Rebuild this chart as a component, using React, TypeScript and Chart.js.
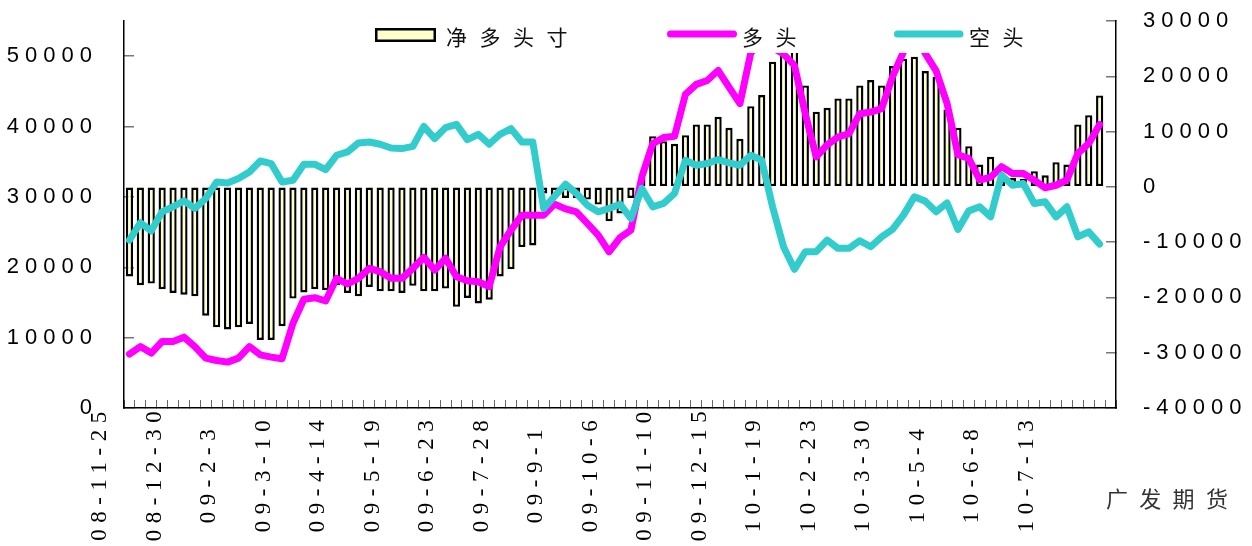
import React, { useEffect, useRef } from 'react';
import { Chart, registerables } from 'chart.js';

Chart.register(...registerables);

// Weekly categories (last slot is an empty category on the axis)
const categories: string[] = [
  '08-11-25', '08-12-2', '08-12-9', '08-12-16', '08-12-23',
  '08-12-30', '09-1-6', '09-1-13', '09-1-20', '09-1-27',
  '09-2-3', '09-2-10', '09-2-17', '09-2-24', '09-3-3',
  '09-3-10', '09-3-17', '09-3-24', '09-3-31', '09-4-7',
  '09-4-14', '09-4-21', '09-4-28', '09-5-5', '09-5-12',
  '09-5-19', '09-5-26', '09-6-2', '09-6-9', '09-6-16',
  '09-6-23', '09-6-30', '09-7-7', '09-7-14', '09-7-21',
  '09-7-28', '09-8-4', '09-8-11', '09-8-18', '09-8-25',
  '09-9-1', '09-9-8', '09-9-15', '09-9-22', '09-9-29',
  '09-10-6', '09-10-13', '09-10-20', '09-10-27', '09-11-3',
  '09-11-10', '09-11-17', '09-11-24', '09-12-1', '09-12-8',
  '09-12-15', '09-12-22', '09-12-29', '10-1-5', '10-1-12',
  '10-1-19', '10-1-26', '10-2-2', '10-2-9', '10-2-16',
  '10-2-23', '10-3-2', '10-3-9', '10-3-16', '10-3-23',
  '10-3-30', '10-4-6', '10-4-13', '10-4-20', '10-4-27',
  '10-5-4', '10-5-11', '10-5-18', '10-5-25', '10-6-1',
  '10-6-8', '10-6-15', '10-6-22', '10-6-29', '10-7-6',
  '10-7-13', '10-7-20', '10-7-27', '10-8-3', '10-8-10',
  '',
];

// 净多头寸 (right axis)
const netLong: (number | null)[] = [
  -16200, -17800, -17500, -18500, -19200, -19500, -19800, -23300, -25400, -25800,
  -25400, -24800, -27700, -27700, -25200, -20200, -19100, -18500, -18700, -17800,
  -19200, -19800, -18100, -18900, -18900, -19200, -17900, -18900, -18900, -18400,
  -21700, -20100, -21100, -20400, -16200, -14900, -10900, -10600, -1200, -1900,
  -2000, -2000, -2300, -3200, -6200, -4800, -2000, 1600, 9170, 8260,
  7790, 9350, 11290, 11290, 12680, 10690, 8700, 14600, 16600, 22640,
  27400, 29000, 18350, 13590, 14310, 16000, 16000, 18350, 19310, 18350,
  21850, 23190, 23550, 20940, 19930, 14000, 10690, 7360, 4040, 5430,
  1200, 1600, 1400, 2830, 2100, 4460, 4040, 11290, 12970, 16540,
  null,
];

// 多头 (left axis)
const longPos: (number | null)[] = [
  7660, 8730, 7800, 9450, 9450, 10070, 8730, 7090, 6750, 6520,
  7090, 8730, 7560, 7230, 6990, 12050, 15460, 15680, 15210, 18430,
  17620, 18430, 19850, 19370, 18430, 18430, 19850, 21410, 19610, 21270,
  18660, 18090, 17950, 17240, 22920, 25280, 27410, 27410, 27410, 28970,
  28300, 27880, 26230, 24570, 22200, 24200, 25280, 32840, 37580, 38430,
  38610, 44570, 45990, 46550, 47970, 45600, 43250, 50500, 51800, 51200,
  50300, 48700, 41800, 35680, 37400, 38510, 39000, 41830, 42060, 42540,
  47100, 50600, 53500, 50400, 47900, 43300, 36000, 35450, 32400, 32800,
  34300, 33320, 33320, 32370, 31300, 31660, 32400, 36200, 37600, 40300,
  null,
];

// 空头 (left axis)
const shortPos: (number | null)[] = [
  23870, 26320, 25180, 27880, 28600, 29440, 28360, 29780, 32130, 31990,
  32610, 33550, 35110, 34740, 32130, 32370, 34640, 34640, 33890, 35920,
  36390, 37660, 37800, 37480, 36950, 36870, 37190, 40030, 38290, 39850,
  40310, 38140, 38900, 37480, 38900, 39700, 37800, 37800, 28360, 30100,
  31800, 30490, 28830, 27880, 28360, 28970, 26940, 31200, 28590, 29070,
  30490, 35210, 34500, 34740, 35310, 34830, 34500, 35920, 35210, 28590,
  22920, 19710, 22210, 22210, 23870, 22690, 22690, 23770, 22920, 24330,
  25380, 27410, 30010, 29400, 27880, 29150, 25380, 28020, 28590, 27170,
  33080, 31660, 31900, 29070, 29300, 27170, 28590, 24330, 25040, 23300,
  null,
];

// Axis ticks
const leftTicks = [0, 10000, 20000, 30000, 40000, 50000];
const rightTicks = [-40000, -30000, -20000, -10000, 0, 10000, 20000, 30000];

const seriesNames = ['净多头寸', '多头', '空头'];
const sourceText = '广发期货';
const labelEvery = 5;

const BAR_FILL = '#FFFFCC';
const LONG_COLOR = '#FF00FF';
const SHORT_COLOR = '#33CCCC';

const overlayPlugin = {
  id: 'overlay',
  beforeDraw(chart: any) {
    // spaced-out digits on the value axes
    (chart.ctx as any).letterSpacing = '6px';
  },
  afterDraw(chart: any) {
    const ctx = chart.ctx as any;
    ctx.letterSpacing = '0px';
    ctx.save();

    // category labels (rotated, centred like the original)
    const xs = chart.scales.x;
    const step = xs.width / categories.length;
    ctx.font = '23px "Liberation Serif", "DejaVu Serif", serif';
    ctx.fillStyle = '#000';
    ctx.letterSpacing = '6.5px';
    ctx.textAlign = 'center';
    ctx.textBaseline = 'middle';
    categories.forEach((c, i) => {
      if (i % labelEvery !== 0 || !c) return;
      const x = xs.getPixelForValue(i) - step * 2.7;
      ctx.save();
      ctx.translate(x, 476);
      ctx.rotate(-Math.PI / 2);
      ctx.fillText(c, 3, 0);
      ctx.restore();
    });

    // legend box on top of the plot
    ctx.letterSpacing = '0px';
    ctx.fillStyle = '#fff';
    ctx.fillRect(364, 21, 678, 32);

    ctx.fillStyle = BAR_FILL;
    ctx.fillRect(376, 29, 59, 12);
    ctx.lineWidth = 2.5;
    ctx.strokeStyle = '#000';
    ctx.strokeRect(376.25, 29.25, 58.5, 11.5);

    ctx.lineCap = 'round';
    ctx.lineWidth = 7;
    ctx.strokeStyle = LONG_COLOR;
    ctx.beginPath();
    ctx.moveTo(670.5, 34);
    ctx.lineTo(733.5, 34);
    ctx.stroke();
    ctx.strokeStyle = SHORT_COLOR;
    ctx.beginPath();
    ctx.moveTo(897.5, 34);
    ctx.lineTo(960, 34);
    ctx.stroke();

    ctx.font = '21px "Noto Sans CJK SC", sans-serif';
    ctx.fillStyle = '#111';
    ctx.textAlign = 'left';
    ctx.textBaseline = 'middle';
    ctx.letterSpacing = '12.5px';
    ctx.fillText(seriesNames[0], 446, 37);
    ctx.fillText(seriesNames[1], 742, 37);
    ctx.fillText(seriesNames[2], 969, 37);

    // source note
    ctx.font = '22px "Noto Sans CJK SC", sans-serif';
    ctx.fillStyle = '#333';
    ctx.letterSpacing = '11.3px';
    ctx.fillText(sourceText, 1106, 499);

    ctx.restore();
    ctx.letterSpacing = '0px';
  },
};

export default function App() {
  const ref = useRef<HTMLCanvasElement>(null);

  useEffect(() => {
    if (!ref.current) return;
    const axisFont = { family: '"Liberation Sans", Arial, sans-serif', size: 22 };
    const chart = new Chart(ref.current, {
      type: 'bar',
      data: {
        labels: categories,
        datasets: [
          {
            type: 'bar',
            label: seriesNames[0],
            data: netLong,
            yAxisID: 'y1',
            backgroundColor: BAR_FILL,
            borderColor: '#000',
            borderWidth: 2.4,
            borderSkipped: false,
            categoryPercentage: 1,
            barPercentage: 0.66,
            order: 3,
          },
          {
            type: 'line',
            label: seriesNames[1],
            data: longPos,
            yAxisID: 'y',
            borderColor: LONG_COLOR,
            backgroundColor: LONG_COLOR,
            borderWidth: 7,
            pointRadius: 0,
            tension: 0,
            borderJoinStyle: 'round',
            borderCapStyle: 'round',
            order: 2,
          },
          {
            type: 'line',
            label: seriesNames[2],
            data: shortPos,
            yAxisID: 'y',
            borderColor: SHORT_COLOR,
            backgroundColor: SHORT_COLOR,
            borderWidth: 7,
            pointRadius: 0,
            tension: 0,
            borderJoinStyle: 'round',
            borderCapStyle: 'round',
            order: 1,
          },
        ] as any,
      },
      options: {
        responsive: false,
        animation: false,
        devicePixelRatio: 1,
        layout: { padding: { top: 21, left: 0, right: 0, bottom: 0 } },
        plugins: {
          legend: { display: false },
          tooltip: { enabled: false },
        },
        scales: {
          x: {
            offset: true,
            ticks: { display: false, autoSkip: false },
            grid: {
              offset: true,
              drawOnChartArea: false,
              tickLength: -8,
              color: '#666',
              lineWidth: 1,
            },
            border: { color: '#000', width: 1.5 },
            afterFit: (s: any) => {
              s.height = 138;
              s.paddingLeft = 0;
              s.paddingRight = 0;
            },
          },
          y: {
            position: 'left',
            min: 0,
            max: 55000,
            afterBuildTicks: (s: any) => {
              s.ticks = leftTicks.map((v) => ({ value: v }));
            },
            ticks: {
              padding: 36,
              color: '#000',
              font: axisFont,
              callback: (v: any) => String(v),
            },
            grid: { drawOnChartArea: false, tickLength: -10, color: '#777', lineWidth: 1.5 },
            border: { color: '#000', width: 1.5 },
            afterFit: (s: any) => {
              s.width = 124;
              s.paddingTop = 0;
              s.paddingBottom = 0;
            },
          },
          y1: {
            position: 'right',
            min: -40000,
            max: 30000,
            afterBuildTicks: (s: any) => {
              s.ticks = rightTicks.map((v) => ({ value: v }));
            },
            ticks: {
              padding: 37,
              color: '#000',
              font: axisFont,
              callback: (v: any) => String(v),
            },
            grid: { drawOnChartArea: false, tickLength: -10, color: '#777', lineWidth: 1.5 },
            border: { color: '#000', width: 1.5 },
            afterFit: (s: any) => {
              s.width = 136;
              s.paddingTop = 0;
              s.paddingBottom = 0;
            },
          },
        },
      } as any,
      plugins: [overlayPlugin],
    });
    return () => chart.destroy();
  }, []);

  return (
    <div style={{ position: 'fixed', left: 0, top: 0, width: 1252, height: 546, background: '#fff' }}>
      <canvas ref={ref} width={1252} height={546} style={{ display: 'block', width: 1252, height: 546 }} />
    </div>
  );
}
